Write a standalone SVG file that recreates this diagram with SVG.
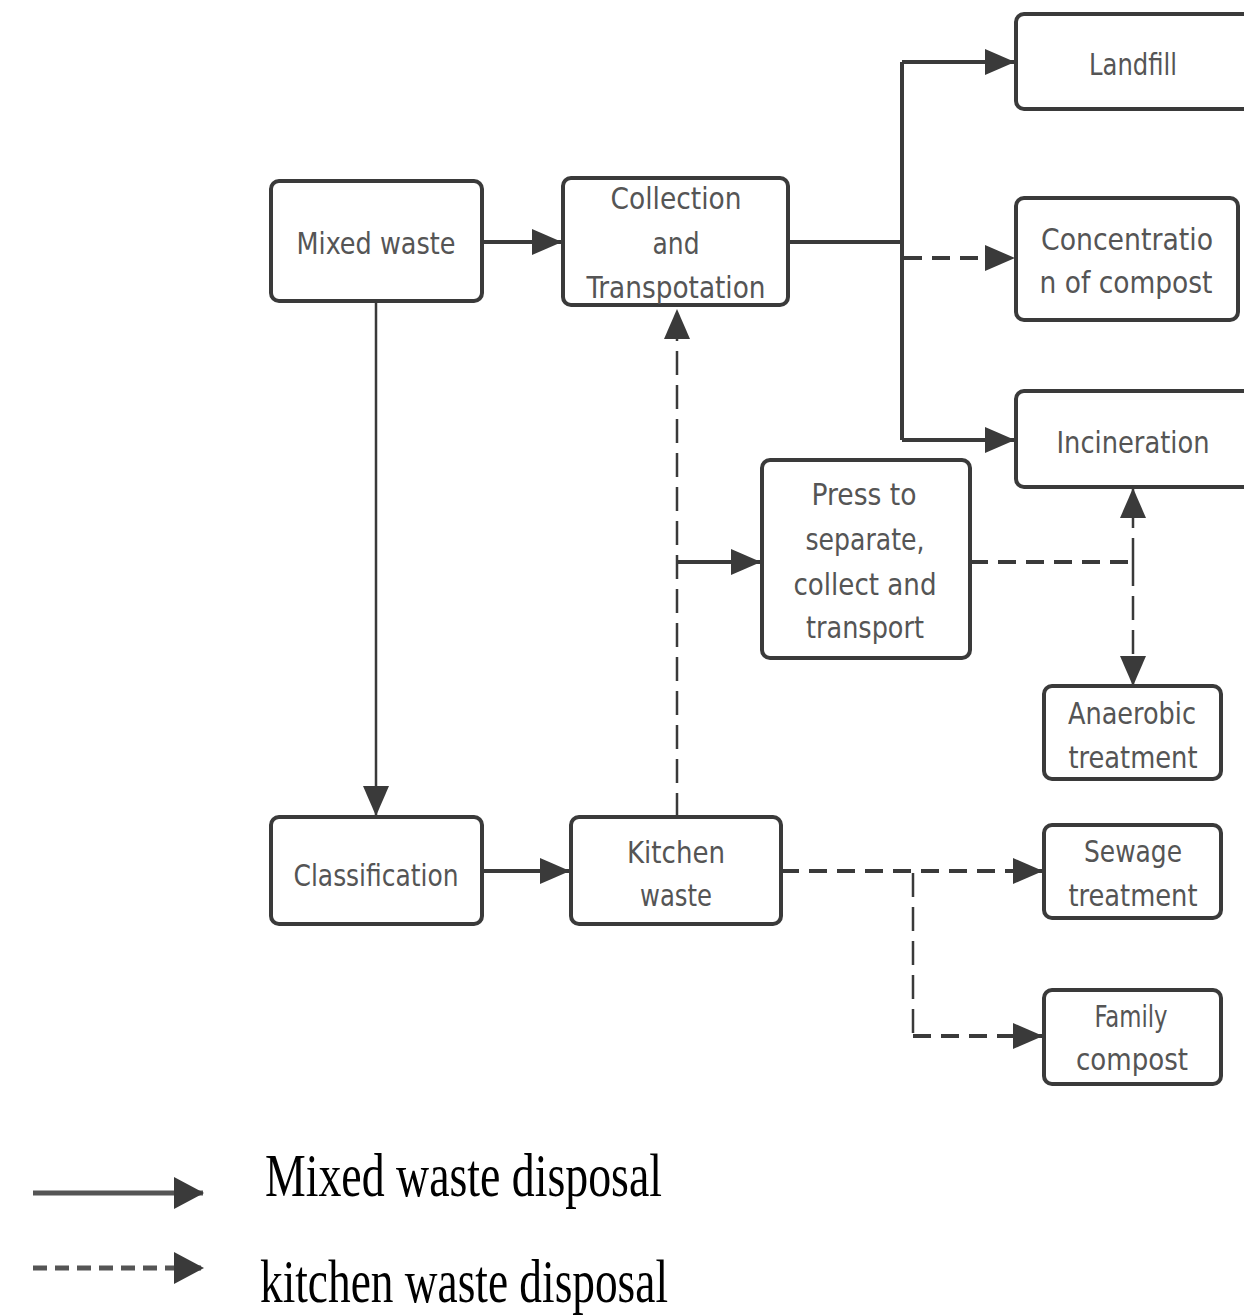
<svg xmlns="http://www.w3.org/2000/svg" width="1244" height="1316" viewBox="0 0 1244 1316">
<style>
.box{fill:#fff;stroke:#3a3a3a;stroke-width:4}
.t{font-family:"DejaVu Sans Condensed","DejaVu Sans","Liberation Sans",sans-serif;font-stretch:condensed;font-size:31px;fill:#555;text-anchor:middle}
.c{fill:none;stroke:#3a3a3a;stroke-width:4}
.thin{fill:none;stroke:#3a3a3a;stroke-width:2.5}
.d{stroke-dasharray:18 10}
.dv{stroke-dasharray:24 10}
.leg{font-family:"Liberation Serif","Times New Roman",serif;font-size:62px;fill:#000}
</style>
<defs>
<marker id="ah" markerUnits="userSpaceOnUse" markerWidth="30" markerHeight="26" refX="29" refY="13" orient="auto">
<path d="M0,0 L30,13 L0,26 z" fill="#3a3a3a"/>
</marker>
<marker id="ahl" markerUnits="userSpaceOnUse" markerWidth="30" markerHeight="32" refX="29" refY="16" orient="auto">
<path d="M0,0 L30,16 L0,32 z" fill="#3a3a3a"/>
</marker>
</defs>
<rect width="1244" height="1316" fill="#fff"/>
<g id="connectors">
<line class="c" x1="482" y1="242" x2="561" y2="242" marker-end="url(#ah)"/>
<polyline class="c" points="788,242 902,242"/>
<line class="c" x1="902" y1="62" x2="902" y2="440"/>
<polyline class="c" points="902,62 1014,62" marker-end="url(#ah)"/>
<polyline class="c" points="902,440 1014,440" marker-end="url(#ah)"/>
<line class="c d" x1="904" y1="258" x2="1014" y2="258" marker-end="url(#ah)"/>
<line class="thin" x1="376" y1="301" x2="376" y2="815" marker-end="url(#ah)"/>
<line class="c" x1="482" y1="871" x2="569" y2="871" marker-end="url(#ah)"/>
<line class="thin dv" x1="677" y1="817" x2="677" y2="310" marker-end="url(#ah)"/>
<line class="c" x1="677" y1="562" x2="760" y2="562" marker-end="url(#ah)"/>
<line class="c d" x1="970" y1="562" x2="1133" y2="562"/>
<line class="thin dv" x1="1133" y1="562" x2="1133" y2="489" marker-end="url(#ah)"/>
<line class="thin dv" x1="1133" y1="562" x2="1133" y2="685" marker-end="url(#ah)"/>
<line class="c d" x1="781" y1="871" x2="1042" y2="871" marker-end="url(#ah)"/>
<polyline class="thin dv" points="913,873 913,1036"/>
<line class="c d" x1="913" y1="1036" x2="1042" y2="1036" marker-end="url(#ah)"/>
</g>
<g id="n-mixed"><rect class="box" x="271" y="181" width="211" height="120" rx="8"/>
<text class="t" x="376" y="254" textLength="159" lengthAdjust="spacingAndGlyphs">Mixed waste</text></g>
<g id="n-collection"><rect class="box" x="563" y="178" width="225" height="127" rx="8"/>
<text class="t" x="676" y="209" textLength="131" lengthAdjust="spacingAndGlyphs">Collection</text>
<text class="t" x="676" y="254" textLength="47" lengthAdjust="spacingAndGlyphs">and</text>
<text class="t" x="676" y="298" textLength="179" lengthAdjust="spacingAndGlyphs">Transpotation</text></g>
<g id="n-landfill"><rect class="box" x="1016" y="14" width="240" height="95" rx="8"/>
<text class="t" x="1133" y="75" textLength="88" lengthAdjust="spacingAndGlyphs">Landfill</text></g>
<g id="n-concentration"><rect class="box" x="1016" y="198" width="222" height="122" rx="8"/>
<text class="t" x="1127" y="250" textLength="172" lengthAdjust="spacingAndGlyphs">Concentratio</text>
<text class="t" x="1126" y="293" textLength="173" lengthAdjust="spacingAndGlyphs">n of compost</text></g>
<g id="n-incineration"><rect class="box" x="1016" y="391" width="240" height="96" rx="8"/>
<text class="t" x="1133" y="453" textLength="153" lengthAdjust="spacingAndGlyphs">Incineration</text></g>
<g id="n-press"><rect class="box" x="762" y="460" width="208" height="198" rx="8"/>
<text class="t" x="864" y="505" textLength="105" lengthAdjust="spacingAndGlyphs">Press to</text>
<text class="t" x="865" y="550" textLength="119" lengthAdjust="spacingAndGlyphs">separate,</text>
<text class="t" x="865" y="595" textLength="143" lengthAdjust="spacingAndGlyphs">collect and</text>
<text class="t" x="865" y="638" textLength="118" lengthAdjust="spacingAndGlyphs">transport</text></g>
<g id="n-anaerobic"><rect class="box" x="1044" y="686" width="177" height="93" rx="8"/>
<text class="t" x="1132" y="724" textLength="128" lengthAdjust="spacingAndGlyphs">Anaerobic</text>
<text class="t" x="1133" y="768" textLength="129" lengthAdjust="spacingAndGlyphs">treatment</text></g>
<g id="n-classification"><rect class="box" x="271" y="817" width="211" height="107" rx="8"/>
<text class="t" x="376" y="886" textLength="165" lengthAdjust="spacingAndGlyphs">Classification</text></g>
<g id="n-kitchen"><rect class="box" x="571" y="817" width="210" height="107" rx="8"/>
<text class="t" x="676" y="863" textLength="98" lengthAdjust="spacingAndGlyphs">Kitchen</text>
<text class="t" x="676" y="906" textLength="72" lengthAdjust="spacingAndGlyphs">waste</text></g>
<g id="n-sewage"><rect class="box" x="1044" y="825" width="177" height="93" rx="8"/>
<text class="t" x="1133" y="862" textLength="98" lengthAdjust="spacingAndGlyphs">Sewage</text>
<text class="t" x="1133" y="906" textLength="129" lengthAdjust="spacingAndGlyphs">treatment</text></g>
<g id="n-family"><rect class="box" x="1044" y="990" width="177" height="94" rx="8"/>
<text class="t" x="1131" y="1027" textLength="73" lengthAdjust="spacingAndGlyphs">Family</text>
<text class="t" x="1132" y="1070" textLength="112" lengthAdjust="spacingAndGlyphs">compost</text></g>
<g id="legend">
<line class="c" style="stroke-width:5;stroke:#555" x1="33" y1="1193" x2="203" y2="1193" marker-end="url(#ahl)"/>
<line class="c d" style="stroke-width:5;stroke:#555;stroke-dasharray:14 8" x1="33" y1="1268" x2="203" y2="1268" marker-end="url(#ahl)"/>
<text class="leg" x="265" y="1196" textLength="397" lengthAdjust="spacingAndGlyphs">Mixed waste disposal</text>
<text class="leg" x="260" y="1302" textLength="408" lengthAdjust="spacingAndGlyphs">kitchen waste disposal</text>
</g>
</svg>
